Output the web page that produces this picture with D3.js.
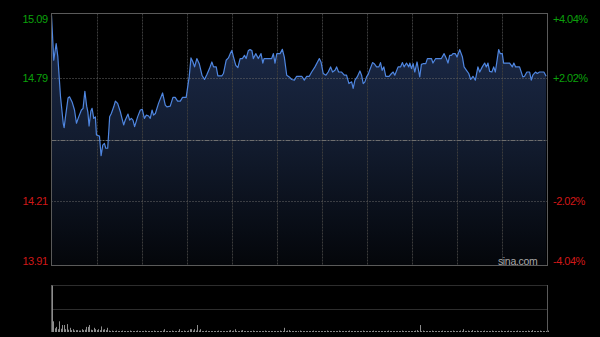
<!DOCTYPE html>
<html>
<head>
<meta charset="utf-8">
<script src="https://cdn.jsdelivr.net/npm/d3@7"></script>
<style>
  html, body { margin: 0; padding: 0; background: #000; }
  svg { display: block; }
</style>
</head>
<body>
<div id="chart"></div>
<script>
// intraday price, HK session 09:30-12:00 / 13:00-16:00 = 330 minutes
const prevClose = 14.50;
const priceTicks = [15.09, 14.79, 14.21, 13.91];
const pctTicks = ["+4.04%", "+2.02%", "-2.02%", "-4.04%"];

const minutes = [
  0, 1.5, 3.1, 4.2, 6.0, 7.8, 8.4, 9.3, 11.0, 12.0,
  13.7, 15.3, 16.6, 18.1, 19.9, 21.0, 22.2, 23.4, 24.2, 25.0,
  26.2, 27.0, 28.1, 29.2, 29.9, 31.9, 33.0, 34.1, 35.2, 36.1,
  37.4, 38.7, 39.8, 41.4, 42.5, 44.0, 45.8, 46.9, 48.0, 49.1,
  50.9, 52.0, 53.1, 54.2, 55.3, 57.3, 59.1, 60.4, 61.8, 63.1,
  64.6, 65.7, 66.9, 67.9, 69.1, 71.2, 73.9, 75.7, 76.8, 79.0,
  80.8, 82.3, 83.9, 85.7, 87.2, 89.6, 91.6, 92.8, 94.1, 95.2,
  96.7, 98.3, 100.1, 101.8, 103.4, 105.1, 106.7, 107.8, 109.6, 110.7,
  113.3, 114.4, 116.2, 117.7, 118.9, 120.0, 121.1, 122.6, 124.0, 125.5,
  127.0, 128.4, 129.5, 131.0, 132.1, 133.3, 134.3, 135.9, 137.6, 139.4,
  140.6, 141.4, 146.5, 147.6, 148.7, 149.9, 152.1, 153.6, 154.9, 156.5,
  158.2, 159.8, 161.6, 163.1, 166.5, 168.2, 169.8, 171.5, 173.1, 175.3,
  178.2, 179.3, 180.8, 182.6, 184.1, 185.7, 187.0, 188.6, 189.7, 191.0,
  193.0, 194.8, 196.3, 197.9, 199.7, 200.7, 201.9, 203.4, 205.2, 206.3,
  207.4, 208.5, 209.6, 210.7, 211.8, 213.6, 214.7, 216.3, 217.8, 218.9,
  220.0, 221.1, 222.4, 224.6, 226.2, 227.3, 228.4, 230.6, 232.2, 233.5,
  234.6, 236.2, 237.7, 238.4, 239.5, 240.6, 241.7, 243.2, 244.4, 245.0,
  246.1, 247.2, 249.0, 250.1, 252.8, 253.8, 255.6, 259.4, 261.2, 262.7,
  263.8, 264.9, 266.1, 267.1, 268.7, 269.8, 271.6, 273.4, 274.5, 276.1,
  277.6, 278.9, 280.4, 282.0, 283.7, 284.9, 286.6, 288.2, 289.3, 290.4,
  291.5, 293.0, 294.2, 295.3, 297.5, 298.6, 299.9, 300.8, 304.8, 306.6,
  307.6, 308.8, 311.4, 313.6, 314.7, 316.3, 318.1, 319.2, 320.2, 322.0,
  323.2, 324.7, 327.6, 329.1
];

const prices = [
  15.081, 14.871, 14.949, 14.889, 14.700, 14.576, 14.555, 14.606, 14.694, 14.700,
  14.676, 14.638, 14.576, 14.606, 14.638, 14.646, 14.726, 14.656, 14.628, 14.563,
  14.633, 14.646, 14.599, 14.606, 14.521, 14.516, 14.424, 14.474, 14.482, 14.459,
  14.459, 14.606, 14.622, 14.653, 14.680, 14.669, 14.630, 14.599, 14.568, 14.591,
  14.619, 14.591, 14.599, 14.591, 14.560, 14.606, 14.638, 14.641, 14.599, 14.614,
  14.610, 14.599, 14.638, 14.614, 14.622, 14.669, 14.718, 14.661, 14.653, 14.656,
  14.697, 14.697, 14.680, 14.680, 14.697, 14.697, 14.793, 14.882, 14.863, 14.840,
  14.879, 14.855, 14.801, 14.781, 14.804, 14.832, 14.863, 14.840, 14.840, 14.798,
  14.798, 14.809, 14.871, 14.882, 14.902, 14.917, 14.886, 14.847, 14.837, 14.879,
  14.879, 14.894, 14.879, 14.917, 14.921, 14.917, 14.879, 14.902, 14.879, 14.902,
  14.858, 14.879, 14.879, 14.902, 14.858, 14.902, 14.902, 14.922, 14.886, 14.801,
  14.793, 14.781, 14.778, 14.796, 14.796, 14.778, 14.796, 14.796, 14.816, 14.840,
  14.879, 14.863, 14.809, 14.801, 14.816, 14.840, 14.816, 14.824, 14.840, 14.816,
  14.816, 14.801, 14.801, 14.762, 14.770, 14.739, 14.778, 14.793, 14.821, 14.801,
  14.762, 14.770, 14.793, 14.805, 14.827, 14.860, 14.855, 14.840, 14.840, 14.860,
  14.824, 14.840, 14.796, 14.796, 14.809, 14.816, 14.801, 14.840, 14.840, 14.860,
  14.840, 14.858, 14.840, 14.858, 14.832, 14.855, 14.816, 14.863, 14.816, 14.793,
  14.852, 14.855, 14.855, 14.879, 14.879, 14.858, 14.879, 14.879, 14.902, 14.879,
  14.858, 14.894, 14.894, 14.902, 14.902, 14.886, 14.921, 14.886, 14.840, 14.824,
  14.809, 14.781, 14.796, 14.778, 14.840, 14.816, 14.840, 14.858, 14.840, 14.858,
  14.819, 14.816, 14.840, 14.816, 14.921, 14.902, 14.902, 14.858, 14.858, 14.840,
  14.858, 14.840, 14.840, 14.793, 14.796, 14.816, 14.816, 14.778, 14.801, 14.816,
  14.809, 14.816, 14.816, 14.796
];

// volume per minute (relative units)
const volumes = [
  100, 23, 8, 11, 6, 23, 7, 15, 15, 6, 17, 5, 9, 4, 6, 3, 4, 4, 3, 3, 6, 4, 5, 11, 11, 15, 5, 4, 9, 6,
  4, 6, 4, 12, 5, 6, 4, 9, 3, 2, 3, 2, 2, 3, 2, 2, 2, 3, 2, 2, 2, 2, 3, 2, 2, 2, 2, 3, 2, 2,
  2, 2, 3, 2, 2, 2, 2, 2, 3, 2, 2, 2, 2, 2, 3, 6, 2, 2, 2, 2, 3, 2, 2, 2, 2, 6, 2, 2, 3, 2,
  2, 3, 6, 6, 3, 6, 3, 15, 3, 6, 2, 2, 2, 3, 2, 2, 2, 2, 2, 2, 2, 3, 2, 2, 2, 2, 2, 2, 3, 4,
  2, 3, 6, 2, 2, 2, 3, 4, 2, 2, 2, 2, 2, 2, 3, 2, 2, 2, 2, 2, 2, 2, 3, 2, 2, 2, 2, 2, 2, 2,
  2, 2, 3, 2, 2, 9, 2, 3, 4, 2, 2, 2, 2, 2, 2, 3, 2, 2, 2, 2, 2, 2, 2, 2, 3, 2, 2, 2, 2, 2,
  2, 2, 2, 3, 2, 2, 2, 2, 2, 2, 2, 3, 2, 2, 2, 2, 2, 2, 3, 2, 2, 2, 2, 2, 2, 2, 2, 3, 2, 2,
  2, 2, 2, 2, 3, 2, 2, 2, 2, 2, 2, 2, 2, 2, 3, 2, 2, 2, 2, 2, 2, 2, 2, 3, 2, 2, 2, 2, 2, 2,
  2, 2, 3, 4, 2, 15, 2, 3, 2, 2, 2, 2, 2, 3, 2, 2, 2, 2, 2, 2, 3, 2, 2, 2, 2, 2, 2, 3, 2, 2,
  2, 2, 3, 2, 6, 2, 2, 3, 2, 2, 4, 2, 2, 3, 2, 2, 2, 2, 3, 2, 2, 2, 2, 3, 2, 2, 2, 2, 2, 3,
  2, 2, 2, 2, 3, 2, 2, 2, 2, 2, 3, 2, 2, 2, 2, 2, 2, 3, 2, 2, 4, 2, 2, 2, 2, 3, 2, 2, 2, 2, 3
];

const W = 600, H = 337;
const m = { left: 51.5, right: 547.5, top: 13.5, bottom: 265.5 };
const v = { top: 285.5, bottom: 332 };
const font = "'Liberation Sans', Arial, sans-serif";

const svg = d3.select("#chart").append("svg")
  .attr("width", W).attr("height", H);
svg.append("rect").attr("width", W).attr("height", H).attr("fill", "#000");

const x = d3.scaleLinear().domain([0, 330]).range([m.left, m.right]);
const y = d3.scaleLinear().domain([13.91, 15.09]).range([m.bottom, m.top]);
const yV = d3.scaleLinear().domain([0, d3.max(volumes)]).range([v.bottom, v.top]);

const data = minutes.map((t, i) => ({ t, p: prices[i] }));

// gradient for area
const grad = svg.append("defs").append("linearGradient")
  .attr("id", "fillGrad").attr("gradientUnits", "userSpaceOnUse")
  .attr("x1", 0).attr("x2", 0).attr("y1", m.top).attr("y2", m.bottom);
grad.append("stop").attr("offset", "0%").attr("stop-color", "#1d2c4c");
grad.append("stop").attr("offset", "55%").attr("stop-color", "#111a2c");
grad.append("stop").attr("offset", "100%").attr("stop-color", "#04060a");

svg.append("path")
  .datum(data)
  .attr("fill", "url(#fillGrad)")
  .attr("d", d3.area().x(d => x(d.t)).y0(m.bottom).y1(d => y(d.p)));

// vertical grid
const vTicks = d3.range(30, 330, 30);
svg.append("g").selectAll("line").data(vTicks).enter().append("line")
  .attr("x1", d => Math.round(x(d)) + 0.5).attr("x2", d => Math.round(x(d)) + 0.5)
  .attr("y1", m.top).attr("y2", m.bottom)
  .attr("stroke", "#3c3c3c").attr("stroke-dasharray", "2,1");

// horizontal grid (inner ticks)
svg.append("g").selectAll("line").data(priceTicks.slice(1, 3)).enter().append("line")
  .attr("x1", m.left).attr("x2", m.right)
  .attr("y1", d => Math.round(y(d)) + 0.5).attr("y2", d => Math.round(y(d)) + 0.5)
  .attr("stroke", "#6a6a6a").attr("stroke-dasharray", "1,2");

// previous close
svg.append("line")
  .attr("x1", m.left).attr("x2", m.right)
  .attr("y1", Math.round(y(prevClose)) + 0.5).attr("y2", Math.round(y(prevClose)) + 0.5)
  .attr("stroke", "#6e6e6e").attr("stroke-dasharray", "5,1,2,1");

// price line
svg.append("path")
  .datum(data)
  .attr("fill", "none").attr("stroke", "#4f86e0").attr("stroke-width", 1.2)
  .attr("stroke-linejoin", "round")
  .attr("d", d3.line().x(d => x(d.t)).y(d => y(d.p)));

// frame
svg.append("rect")
  .attr("x", m.left).attr("y", m.top)
  .attr("width", m.right - m.left).attr("height", m.bottom - m.top)
  .attr("fill", "none").attr("stroke", "#5a5a5a");

// left labels
const tickColor = d => d > prevClose ? "#0ba00b" : "#d01818";
const baseY = (d, i) => i === 0 ? m.top + 9 : i === priceTicks.length - 1 ? m.bottom - 1 : y(d) + 4;
svg.append("g").selectAll("text").data(priceTicks).enter().append("text")
  .attr("x", 47.5).attr("y", baseY)
  .attr("text-anchor", "end")
  .attr("font-family", font).attr("font-size", 11).attr("letter-spacing", -0.5)
  .attr("fill", tickColor)
  .text(d => d.toFixed(2));

// right labels
svg.append("g").selectAll("text").data(priceTicks).enter().append("text")
  .attr("x", 553).attr("y", baseY)
  .attr("font-family", font).attr("font-size", 11).attr("letter-spacing", -0.5)
  .attr("fill", tickColor)
  .text((d, i) => pctTicks[i]);

// watermark
svg.append("text")
  .attr("x", 537.5).attr("y", 264.5).attr("text-anchor", "end")
  .attr("font-family", font).attr("font-size", 10.5).attr("letter-spacing", -0.3)
  .attr("fill", "#a8a8a8")
  .text("sina.com");

// volume panel
svg.append("g").selectAll("line").data([v.top, 309.5]).enter().append("line")
  .attr("x1", m.left).attr("x2", m.right).attr("y1", d => d).attr("y2", d => d)
  .attr("stroke", "#5a5a5a").attr("stroke-dasharray", "1,1");

svg.append("g").selectAll("rect").data(volumes).enter().append("rect")
  .attr("x", (d, i) => Math.round(x(i)))
  .attr("y", d => yV(d))
  .attr("width", 1)
  .attr("height", d => v.bottom - yV(d))
  .attr("fill", "#8c8c8c");

svg.append("g").selectAll("line").data([m.left, m.right]).enter().append("line")
  .attr("x1", d => d).attr("x2", d => d).attr("y1", v.top - 0.5).attr("y2", v.bottom)
  .attr("stroke", "#5a5a5a");
</script>
</body>
</html>
